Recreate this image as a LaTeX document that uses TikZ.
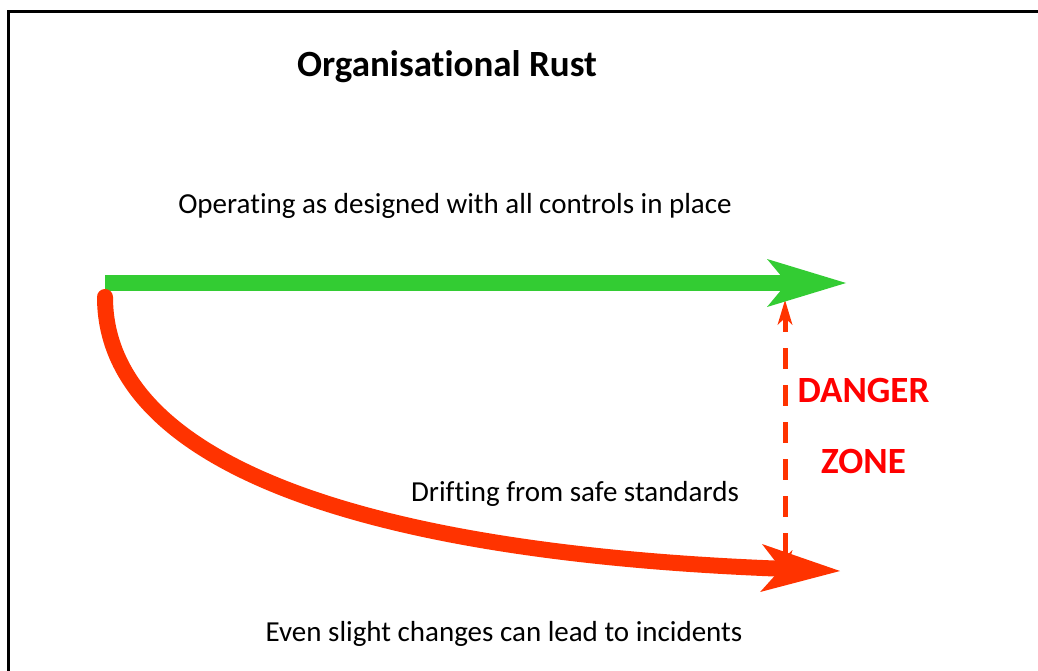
\documentclass[tikz,border=0pt]{standalone}
\usepackage{fontspec}
\setmainfont{Carlito}[Ligatures={NoCommon}]
\usetikzlibrary{arrows.meta}

\definecolor{safegreen}{RGB}{51,204,51}
\definecolor{driftred}{RGB}{255,51,0}
\definecolor{dangerred}{RGB}{255,0,0}

\tikzset{
  frameline/.style={line width=3pt, draw=black},
  bigarrow/.style={line width=16pt,
    -{Stealth[length=79pt, width=48pt, inset=20pt, line width=0pt]}},
  safepath/.style={bigarrow, draw=safegreen, line cap=butt},
  driftpath/.style={bigarrow, draw=driftred, line cap=round},
  zonepath/.style={line width=5pt, draw=driftred,
    dash pattern=on 21pt off 16pt, dash phase=7pt,
    {Stealth[length=25pt, width=15pt, inset=7pt, line width=0pt]}-{Stealth[length=25pt, width=15pt, inset=7pt, line width=0pt]}},
  titletext/.style={inner sep=0pt, anchor=base, font=\fontsize{37}{44}\selectfont\bfseries},
  bodytext/.style={inner sep=0pt, anchor=base, font=\fontsize{29}{35}\selectfont},
  zonetext/.style={inner sep=0pt, anchor=base, text=dangerred,
    font=\fontsize{37}{44}\selectfont\bfseries}
}

\begin{document}
\begin{tikzpicture}[x=1pt, y=-1pt]
  \useasboundingbox (0,0) rectangle (1038,671);
  \fill[white] (0,0) rectangle (1038,671);

  \begin{scope}
    \clip (0,0) rectangle (1038,671);
    % outer frame, running off the right and bottom edges
    \draw[frameline] (8.3,11.3) rectangle (1060,700);
  \end{scope}

  % key points of the two paths and the gap between them
  \coordinate (gstart) at (105,283);
  \coordinate (gend)   at (846,283);
  \coordinate (rstart) at (105,297);
  \coordinate (rend)   at (840,571);
  \coordinate (ztop)   at (785,300);
  \coordinate (zbot)   at (785,575);

  % labels
  \node[titletext] (title) at (447,77) {Organisational Rust};
  \node[bodytext] (designed) at (455,214) {Operating as designed with all controls in place};
  \node[bodytext] (drifting) at (575,501) {Drifting from safe standards};
  \node[bodytext] (incidents) at (504,641) {Even slight changes can lead to incidents};
  \node[zonetext] (danger) at (863.5,402) {DANGER};
  \node[zonetext] (zone) at (863.5,473) {ZONE};

  % gap between intended and actual performance
  \draw[zonepath] (ztop) -- (zbot);

  % intended path
  \draw[safepath] (gstart) -- (gend);

  % drifting path
  \draw[driftpath] (rstart) .. controls (105,455) and (340,552) .. (rend);
\end{tikzpicture}
\end{document}
